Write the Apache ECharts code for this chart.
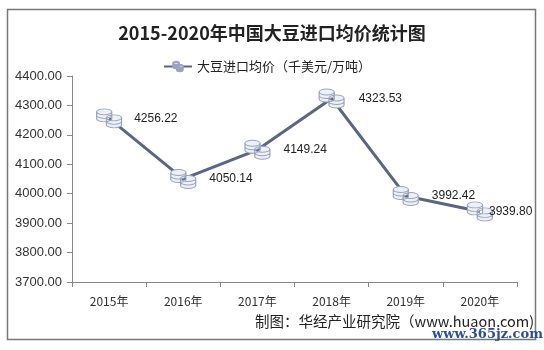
<!DOCTYPE html>
<html>
<head>
<meta charset="utf-8">
<script src="https://cdn.jsdelivr.net/npm/echarts@6/dist/echarts.min.js"></script>
<style>html,body{margin:0;padding:0;background:#fff}#c{width:544px;height:350px}</style>
</head>
<body>
<div id="c"></div>
<script>
const categories = ['2015年','2016年','2017年','2018年','2019年','2020年'];
const priceValues = [4256.22, 4050.14, 4149.24, 4323.53, 3992.42, 3939.80];
const seriesName = '大豆进口均价（千美元/万吨）';
const titleText = '2015-2020年中国大豆进口均价统计图';
const sourceText = '制图：华经产业研究院（www.huaon.com)';
const watermarkText = 'www.365jz.com';

const coin = 'path://M0,3 A7,3 0 1,1 14,3 A7,3 0 1,1 0,3 Z M0,3 L0,10 A7,3 0 0,0 14,10 L14,3 A7,3 0 0,1 0,3 Z M0,6.5 A7,3 0 0,0 14,6.5 ' +
  'M9,9 A7,3 0 1,1 23,9 A7,3 0 1,1 9,9 Z M9,9 L9,16 A7,3 0 0,0 23,16 L23,9 A7,3 0 0,1 9,9 Z M9,12.5 A7,3 0 0,0 23,12.5';
const labelDist = [12, 13, 13, 14, 13, -4];

const chart = echarts.init(document.getElementById('c'), null, {renderer: 'canvas'});
chart.setOption({
  animation: false,
  backgroundColor: '#fff',
  title: {
    text: titleText, left: 'center', top: 19,
    textStyle: {fontFamily: '"Noto Sans CJK SC"', fontWeight: 'bold', fontSize: 18, color: '#222'}
  },
  legend: {
    data: [seriesName], top: 55, left: 158,
    itemWidth: 28, itemHeight: 12, itemGap: 2,
    textStyle: {fontFamily: '"Noto Sans CJK SC"', fontSize: 13, color: '#222'}
  },
  grid: {left: 72, right: 27, top: 76, bottom: 68},
  xAxis: {
    type: 'category', data: categories, boundaryGap: true,
    axisLine: {show: true, lineStyle: {color: '#888', width: 1}},
    axisTick: {show: true, length: 5, lineStyle: {color: '#888'}},
    axisLabel: {fontFamily: '"Noto Sans CJK SC"', fontSize: 12, color: '#333', margin: 13}
  },
  yAxis: {
    type: 'value', min: 3700, max: 4400, interval: 100,
    axisLine: {show: true, lineStyle: {color: '#888', width: 1}},
    axisTick: {show: true, length: 5, lineStyle: {color: '#888'}},
    splitLine: {show: false},
    axisLabel: {fontFamily: '"Liberation Sans", Arial', fontSize: 13, color: '#333', margin: 10,
      formatter: v => v.toFixed(2)}
  },
  series: [{
    name: seriesName, type: 'line',
    data: priceValues.map((v, i) => ({value: v, label: {distance: labelDist[i]}})),
    symbol: coin, symbolSize: [25, 19],
    itemStyle: {color: '#eef0f7', borderColor: '#9ba4bd', borderWidth: 1},
    lineStyle: {color: '#5b6584', width: 3},
    label: {show: true, position: 'right', fontFamily: '"Liberation Sans", Arial', fontSize: 12, color: '#222',
      formatter: p => p.value.toFixed(2)},
    z: 3
  }],
  graphic: [
    {type: 'rect', shape: {x: 7.5, y: 9.5, width: 528, height: 330}, style: {fill: 'none', stroke: '#777', lineWidth: 1.5}, silent: true, z: -1},
    {type: 'text', left: 255, top: 314, style: {text: sourceText, font: '14.5px "Noto Sans CJK SC"', fill: '#222'}},
    {type: 'text', left: 432, top: 328, style: {text: watermarkText, font: 'bold 13px "DejaVu Serif"', fill: '#2d4f94'}}
  ]
});
</script>
</body>
</html>
